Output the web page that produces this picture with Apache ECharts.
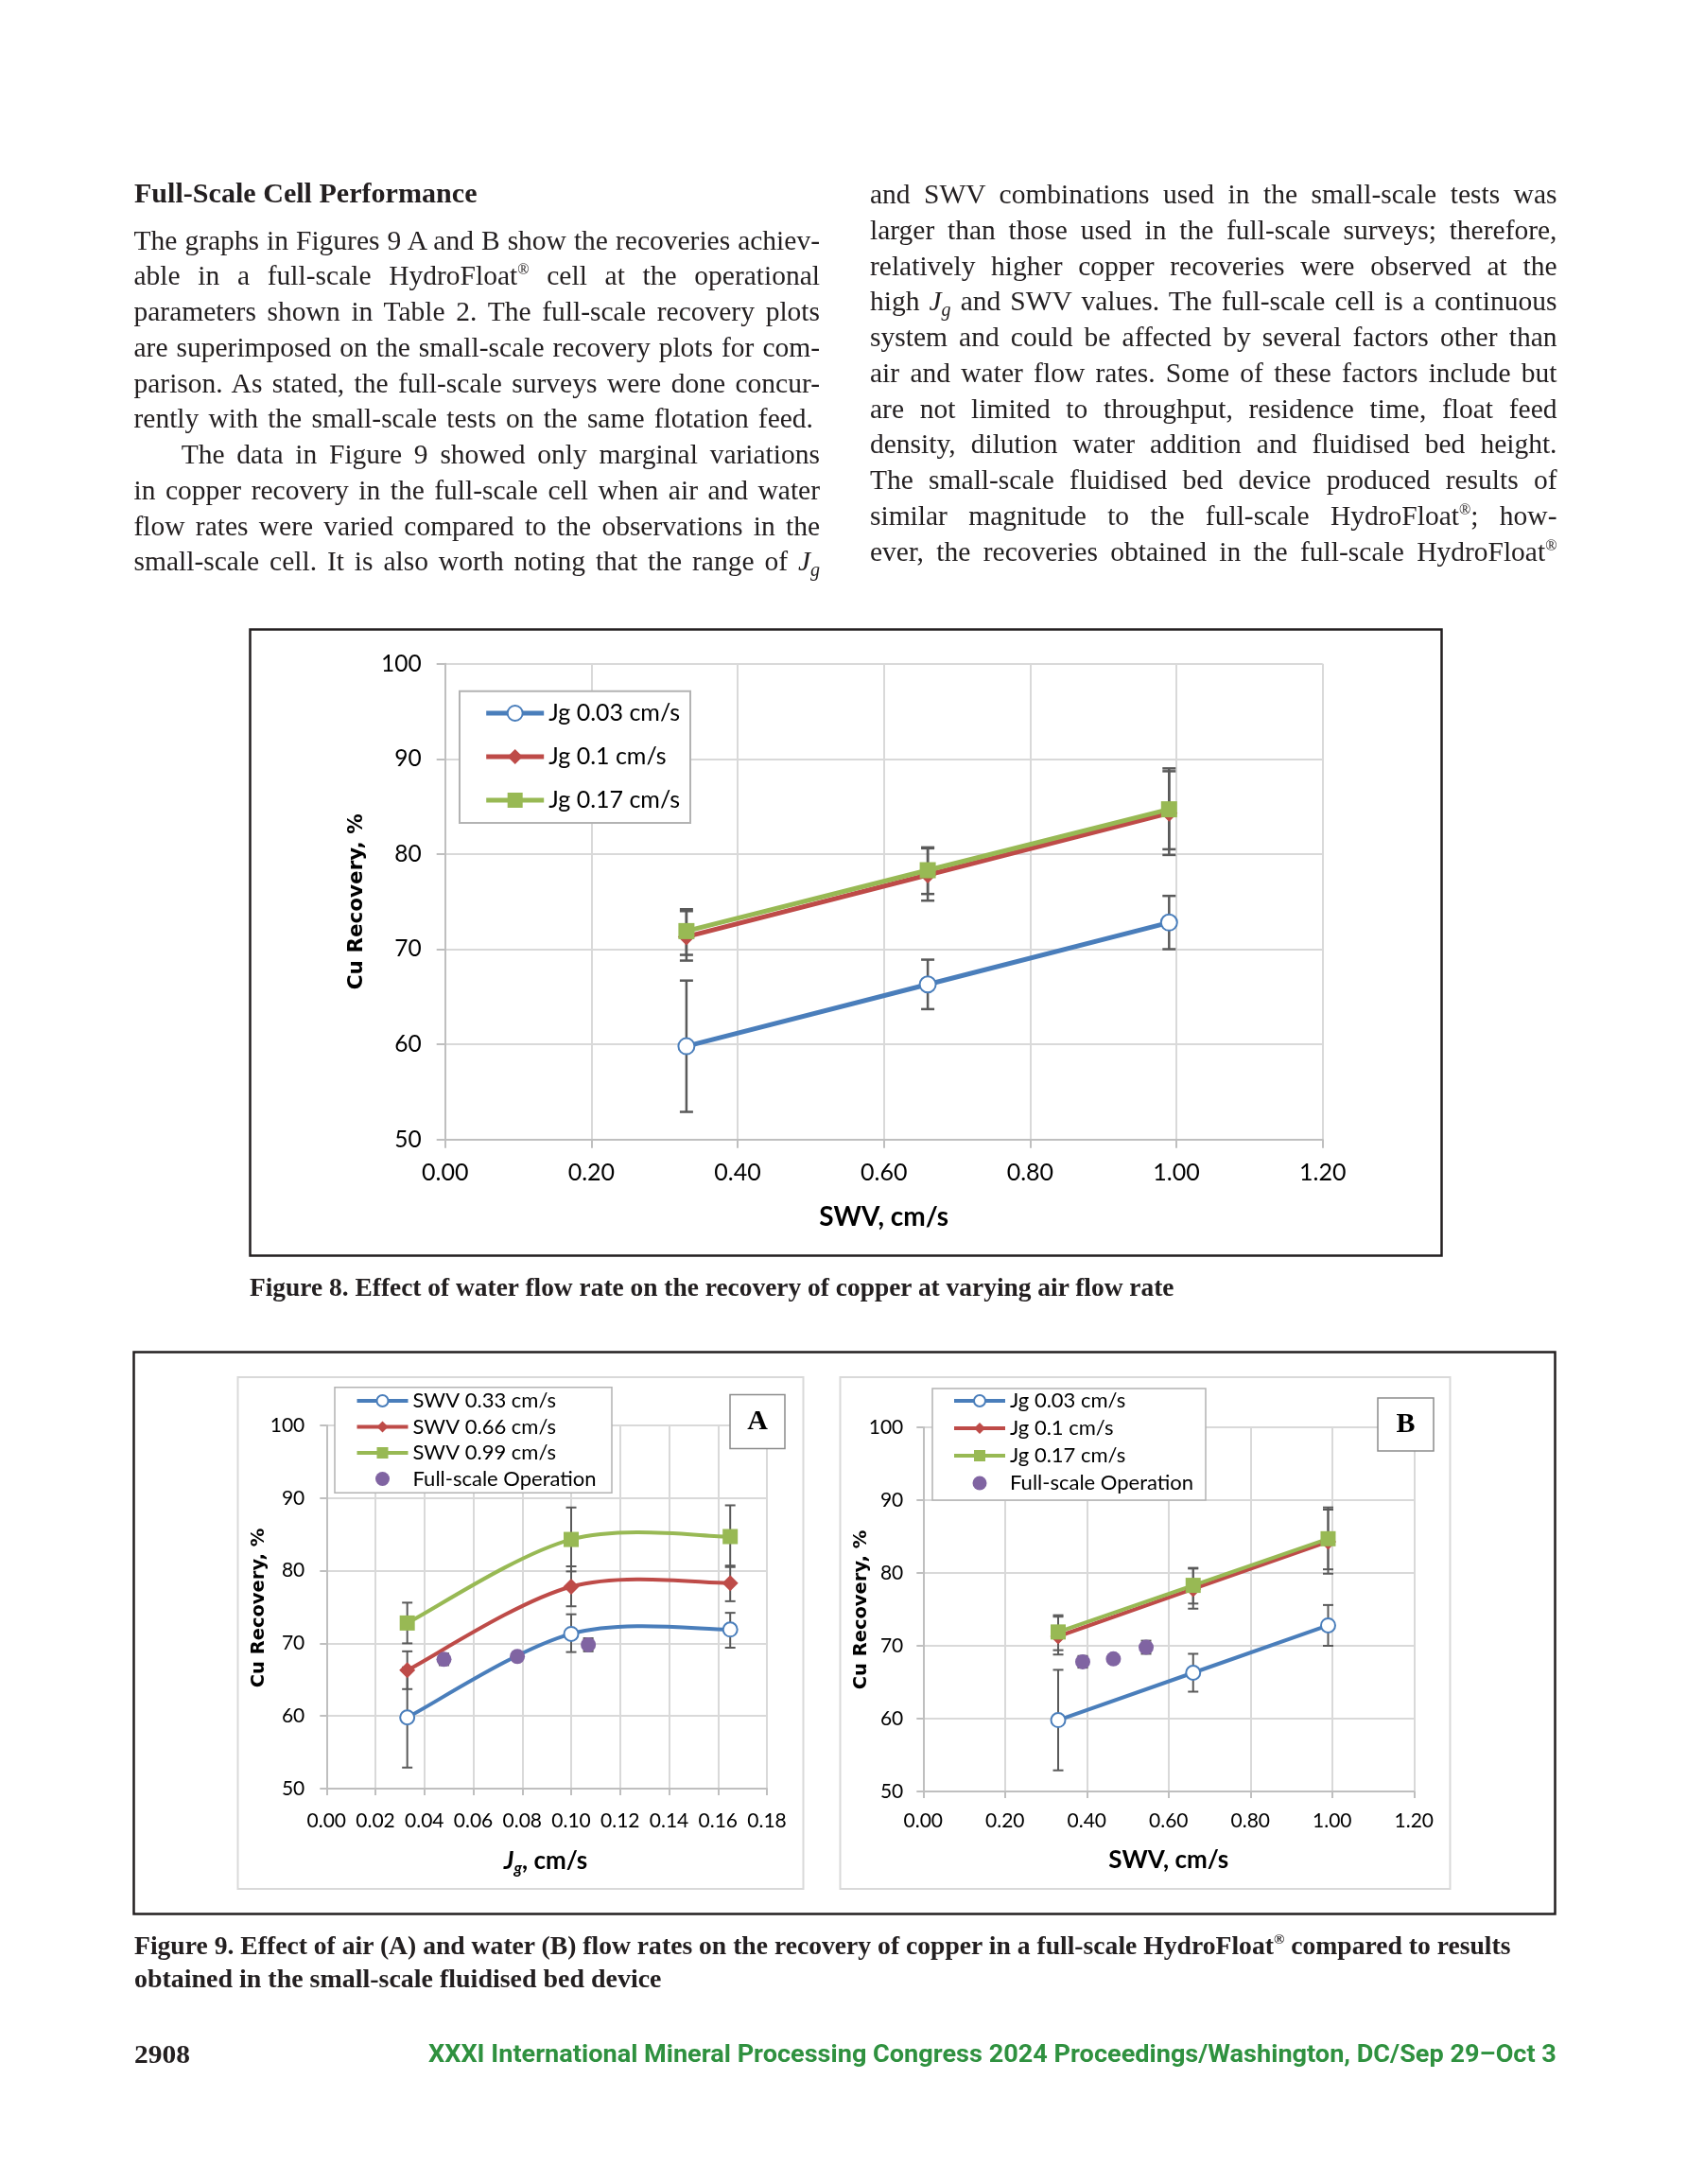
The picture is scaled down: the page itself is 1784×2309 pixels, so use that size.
<!DOCTYPE html>
<html><head><meta charset="utf-8">
<script src="https://cdn.jsdelivr.net/npm/echarts@6.0.0/dist/echarts.min.js"></script>
<style>
html,body{margin:0;padding:0;background:#fff;}
#page{position:relative;width:1784px;height:2309px;overflow:hidden;background:#fff;}
#chart{position:absolute;left:0;top:0;width:1784px;height:2309px;}
#txt{position:absolute;left:0;top:0;width:1784px;height:2309px;pointer-events:none;}
.ln{position:absolute;white-space:nowrap;font-family:"Liberation Serif",serif;font-size:29.5px;line-height:38px;color:#231f20;transform-origin:0 50%;}
.ln sub{font-size:0.68em;line-height:0;vertical-align:-0.28em;}
.ln sup{font-size:0.55em;line-height:0;vertical-align:0.7em;}
</style></head>
<body><div id="page"><div id="chart"></div><div id="txt"></div></div>
<script>
// ---------------- data ----------------
const SWV_VALUES = [0.33, 0.66, 0.99];
const JG_VALUES = [0.033, 0.10, 0.165];
const REC_JG003 = [59.8, 66.3, 72.8];
const REC_JG010 = [71.3, 77.8, 84.3];
const REC_JG017 = [71.9, 78.3, 84.7];
const LOW_JG003 = [52.9, 63.7, 70.0];
const HIGH_JG003 = [66.7, 68.9, 75.6];
const LOW_JG010 = [68.8, 75.1, 79.9];
const HIGH_JG010 = [74.0, 80.6, 88.7];
const LOW_JG017 = [69.4, 75.8, 80.5];
const HIGH_JG017 = [74.2, 80.7, 89.0];
const FULL_JG = [0.048, 0.078, 0.107];
const FULL_SWV = [0.39, 0.465, 0.545];
const FULL_REC = [67.8, 68.2, 69.8];
const FULL_ERR = [0.8, 0.4, 0.9];
const NAMES_JG = ['Jg 0.03 cm/s', 'Jg 0.1 cm/s', 'Jg 0.17 cm/s'];
const NAMES_SWV = ['SWV 0.33 cm/s', 'SWV 0.66 cm/s', 'SWV 0.99 cm/s'];
const FULL_NAME = 'Full-scale Operation';
const Y_RANGE = [50, 100, 10];
const SWV_AXIS = [0, 1.2, 0.2];
const JG_AXIS = [0, 0.18, 0.02];

// ---------------- page text ----------------
const txt = document.getElementById('txt');
function addLine(html, left, right, cy, mode, extraCss) {
  const d = document.createElement('div');
  d.className = 'ln';
  if (extraCss) d.style.cssText += extraCss;
  d.innerHTML = html;
  d.style.left = left + 'px';
  d.style.top = (cy - 19) + 'px';
  txt.appendChild(d);
  const w = d.getBoundingClientRect().width;
  const target = right - left;
  if (mode === 'j') {
    const n = (d.textContent.match(/ /g) || []).length;
    if (n) d.style.wordSpacing = ((target - w) / n) + 'px';
  } else if (mode === 'f') {
    d.style.transform = 'scaleX(' + (target / w) + ')';
  }
}
const JG_I = '<i>J</i><sub><i>g</i></sub>';
const REG = '<sup>®</sup>';
const LEFT_LINES = [
  'The graphs in Figures 9 A and B show the recoveries achiev-',
  'able in a full-scale HydroFloat' + REG + ' cell at the operational',
  'parameters shown in Table 2. The full-scale recovery plots',
  'are superimposed on the small-scale recovery plots for com-',
  'parison. As stated, the full-scale surveys were done concur-',
  'rently with the small-scale tests on the same flotation feed.',
  'The data in Figure 9 showed only marginal variations',
  'in copper recovery in the full-scale cell when air and water',
  'flow rates were varied compared to the observations in the',
  'small-scale cell. It is also worth noting that the range of ' + JG_I
];
const RIGHT_LINES = [
  'and SWV combinations used in the small-scale tests was',
  'larger than those used in the full-scale surveys; therefore,',
  'relatively higher copper recoveries were observed at the',
  'high ' + JG_I + ' and SWV values. The full-scale cell is a continuous',
  'system and could be affected by several factors other than',
  'air and water flow rates. Some of these factors include but',
  'are not limited to throughput, residence time, float feed',
  'density, dilution water addition and fluidised bed height.',
  'The small-scale fluidised bed device produced results of',
  'similar magnitude to the full-scale HydroFloat' + REG + '; how-',
  'ever, the recoveries obtained in the full-scale HydroFloat' + REG
];
addLine('Full-Scale Cell Performance', 141.5, 504, 203.5, 'f', 'font-weight:bold;font-size:29.5px;');
LEFT_LINES.forEach((s, i) => {
  const cy = 253.5 + i * 37.75;
  if (i === 5) addLine(s, 141.5, 860, cy, 'j');
  else if (i === 6) addLine(s, 191.7, 867, cy, 'j');
  else addLine(s, 141.5, 867, cy, 'j');
});
RIGHT_LINES.forEach((s, i) => addLine(s, 920, 1646.5, 205 + i * 37.75, 'j'));
addLine('Figure 8. Effect of water flow rate on the recovery of copper at varying air flow rate', 264, 1241.5, 1361, 'f', 'font-weight:bold;font-size:27.5px;');
addLine('Figure 9. Effect of air (A) and water (B) flow rates on the recovery of copper in a full-scale HydroFloat' + REG + ' compared to results', 141.5, 1597, 2057, 'f', 'font-weight:bold;font-size:27.5px;');
addLine('obtained in the small-scale fluidised bed device', 141.5, 699, 2092, 'f', 'font-weight:bold;font-size:27.5px;');
addLine('2908', 141.5, 200.5, 2172, 'f', 'font-weight:bold;font-size:28px;');
addLine('XXXI International Mineral Processing Congress 2024 Proceedings/Washington, DC/Sep 29–Oct 3', 452.6, 1645.5, 2172, 'f', 'font-family:Roboto,sans-serif;font-weight:bold;font-size:25px;color:#2f913f;');

// ---------------- chart ----------------
const C = ['#4A7EBB', '#BE4B48', '#98B954'];
const C_PURPLE = '#8064A2';
const C_ERR = '#5a5a5a';
const SYMS = ['emptyCircle', 'diamond', 'rect'];
const byJg = [REC_JG003, REC_JG010, REC_JG017];
const lowJg = [LOW_JG003, LOW_JG010, LOW_JG017];
const highJg = [HIGH_JG003, HIGH_JG010, HIGH_JG017];

function fmt2(v) { return (Math.round(v * 100) / 100).toFixed(2); }
function axisPair(gi, xr, yFont, xFont, yMargin, xMargin, tickLen) {
  const common = {
    gridIndex: gi, type: 'value',
    axisLine: { show: true, onZero: false, lineStyle: { color: '#bfbfbf', width: 2 } },
    axisTick: { show: true, length: tickLen, lineStyle: { color: '#bfbfbf', width: 2 } },
    splitLine: { show: true, lineStyle: { color: '#d9d9d9', width: 2 } }
  };
  return {
    x: Object.assign({}, common, { min: xr[0], max: xr[1], interval: xr[2],
      axisLabel: { formatter: fmt2, fontFamily: 'Lato', fontSize: xFont, color: '#000', margin: xMargin } }),
    y: Object.assign({}, common, { min: Y_RANGE[0], max: Y_RANGE[1], interval: Y_RANGE[2],
      axisLabel: { fontFamily: 'Lato', fontSize: yFont, color: '#000', margin: yMargin } })
  };
}
const ax0 = axisPair(0, SWV_AXIS, 24.5, 25, 25, 23, 9);
const ax1 = axisPair(1, JG_AXIS, 21, 21, 23, 24, 7);
const ax2 = axisPair(2, SWV_AXIS, 21, 21, 21, 21, 7);

function lineSeries(gi, name, xs, ys, k, size, lw, hideLine) {
  return {
    type: 'line', name: name, xAxisIndex: gi, yAxisIndex: gi, smooth: false,
    data: xs.map((x, i) => [x, ys[i]]),
    symbol: SYMS[k], symbolSize: size, showSymbol: true,
    itemStyle: { color: C[k], borderWidth: 2.5 },
    lineStyle: { color: C[k], width: lw, opacity: hideLine ? 0 : 1 },
    z: 3
  };
}
// Excel-style smoothed curve (Catmull-Rom Bezier) through the data points, in pixel space via the axes
function curveSeries(gi, xs, ys, k, lw) {
  const pts = xs.map((x, i) => [x, ys[i]]);
  return {
    type: 'custom', xAxisIndex: gi, yAxisIndex: gi, silent: true, z: 2,
    data: pts, encode: { x: 0, y: 1 },
    renderItem: function (params, api) {
      const i = params.dataIndex, n = pts.length;
      if (i >= n - 1) return { type: 'group', children: [] };
      const P = j => api.coord(pts[Math.max(0, Math.min(n - 1, j))]);
      const p0 = P(i - 1), p1 = P(i), p2 = P(i + 1), p3 = P(i + 2);
      return {
        type: 'bezierCurve',
        shape: {
          x1: p1[0], y1: p1[1], x2: p2[0], y2: p2[1],
          cpx1: p1[0] + (p2[0] - p0[0]) / 6, cpy1: p1[1] + (p2[1] - p0[1]) / 6,
          cpx2: p2[0] - (p3[0] - p1[0]) / 6, cpy2: p2[1] - (p3[1] - p1[1]) / 6
        },
        style: { stroke: C[k], lineWidth: lw, fill: null, lineCap: 'round' }
      };
    }
  };
}
function errSeries(gi, xs, lo, hi, capW, lw) {
  return {
    type: 'custom', xAxisIndex: gi, yAxisIndex: gi, silent: true, z: 2,
    data: xs.map((x, i) => [x, lo[i], hi[i]]),
    encode: { x: 0, y: [1, 2] },
    renderItem: function (params, api) {
      const x = api.value(0);
      const a = api.coord([x, api.value(1)]);
      const b = api.coord([x, api.value(2)]);
      const st = { stroke: C_ERR, lineWidth: lw };
      return { type: 'group', children: [
        { type: 'line', shape: { x1: a[0], y1: a[1], x2: b[0], y2: b[1] }, style: st },
        { type: 'line', shape: { x1: a[0] - capW / 2, y1: a[1], x2: a[0] + capW / 2, y2: a[1] }, style: st },
        { type: 'line', shape: { x1: b[0] - capW / 2, y1: b[1], x2: b[0] + capW / 2, y2: b[1] }, style: st }
      ] };
    }
  };
}
function fullSeries(gi, xs, size) {
  return {
    type: 'scatter', name: FULL_NAME, xAxisIndex: gi, yAxisIndex: gi,
    data: xs.map((x, i) => [x, FULL_REC[i]]), symbol: 'circle', symbolSize: size,
    itemStyle: { color: C_PURPLE, opacity: 1 }, z: 3
  };
}
const series = [];
// Figure 8 (grid 0): recovery vs SWV for each Jg
for (let k = 0; k < 3; k++) series.push(errSeries(0, SWV_VALUES, lowJg[k], highJg[k], 14, 2.5));
for (let k = 0; k < 3; k++) series.push(lineSeries(0, NAMES_JG[k], SWV_VALUES, byJg[k], k, [17, 18, 17][k], 5, false));
// Figure 9A (grid 1): recovery vs Jg for each SWV
for (let s = 0; s < 3; s++) series.push(errSeries(1, JG_VALUES, lowJg.map(r => r[s]), highJg.map(r => r[s]), 11, 2));
series.push(errSeries(1, FULL_JG, FULL_REC.map((v, i) => v - FULL_ERR[i]), FULL_REC.map((v, i) => v + FULL_ERR[i]), 11, 2));
for (let s = 0; s < 3; s++) series.push(curveSeries(1, JG_VALUES, byJg.map(r => r[s]), s, 4));
for (let s = 0; s < 3; s++) series.push(lineSeries(1, NAMES_SWV[s], JG_VALUES, byJg.map(r => r[s]), s, [15, 17, 16][s], 4, true));
series.push(fullSeries(1, FULL_JG, 16));
// Figure 9B (grid 2)
for (let k = 0; k < 3; k++) series.push(errSeries(2, SWV_VALUES, lowJg[k], highJg[k], 11, 2));
series.push(errSeries(2, FULL_SWV, FULL_REC.map((v, i) => v - FULL_ERR[i]), FULL_REC.map((v, i) => v + FULL_ERR[i]), 11, 2));
for (let k = 0; k < 3; k++) series.push(lineSeries(2, NAMES_JG[k], SWV_VALUES, byJg[k], k, [15, 17, 16][k], 4, false));
series.push(fullSeries(2, FULL_SWV, 16));

function legend(left, top, names, iw, ih, fs, gap, lw) {
  return {
    left: left, top: top, orient: 'vertical', padding: 0, itemWidth: iw, itemHeight: ih, itemGap: gap,
    selectedMode: false, z: 6,
    data: names.map((n, i) => i < 3 ? { name: n, lineStyle: { color: C[i], width: lw, opacity: 1 } } : { name: n }),
    lineStyle: { width: lw, opacity: 1 },
    textStyle: { fontFamily: 'Lato', fontSize: fs, color: '#000' }
  };
}
const T = (x, y, text, font, rot, z) => ({ type: 'text', x: x, y: y, rotation: rot || 0, z: z || 5,
  style: { text: text, font: font, fill: '#000', align: 'center', verticalAlign: 'middle' } });
const R = (x, y, w, h, stroke, lw, fill, z) => ({ type: 'rect', z: z || 1,
  shape: { x: x, y: y, width: w, height: h }, style: { fill: fill || 'none', stroke: stroke, lineWidth: lw } });

const option = {
  animation: false,
  backgroundColor: 'transparent',
  grid: [
    { left: 470.7, top: 701.7, width: 928, height: 503, outerBoundsMode: 'none', containLabel: false },
    { left: 345.3, top: 1507, width: 465.7, height: 384, outerBoundsMode: 'none', containLabel: false },
    { left: 976.3, top: 1509, width: 519, height: 385, outerBoundsMode: 'none', containLabel: false }
  ],
  xAxis: [ax0.x, ax1.x, ax2.x],
  yAxis: [ax0.y, ax1.y, ax2.y],
  legend: [
    legend(511.7, 741.5, NAMES_JG, 61, 20, 25, 21, 5),
    legend(375.5, 1470, NAMES_SWV.concat([FULL_NAME]), 54, 15, 22, 5.5, 4),
    legend(1007, 1470, NAMES_JG.concat([FULL_NAME]), 54, 15, 22, 7, 4)
  ],
  graphic: { elements: [
    R(264.5, 665.5, 1260, 662, '#231f20', 2.5),
    R(141.5, 1429.5, 1503, 594, '#231f20', 2.5),
    R(251.5, 1456, 598, 541, '#d9d9d9', 2),
    R(888.5, 1456, 645, 541, '#d9d9d9', 2),
    R(486, 730.7, 244, 139.3, '#b3b3b3', 2, '#fff', 4),
    R(354, 1466.7, 293, 111.6, '#b3b3b3', 1.5, '#fff', 4),
    R(986, 1468, 289, 118, '#b3b3b3', 1.5, '#fff', 4),
    R(772, 1474.5, 58, 57, '#8c8c8c', 1.5, '#fff', 4),
    R(1457, 1478, 59, 56, '#8c8c8c', 1.5, '#fff', 4),
    T(801, 1503, 'A', 'bold 30px "Liberation Serif"', 0, 5),
    T(1486.5, 1506, 'B', 'bold 30px "Liberation Serif"', 0, 5),
    T(377.5, 953.2, 'Cu Recovery, %', 'bold 21.5px "DejaVu Sans"', Math.PI / 2),
    T(934.7, 1287, 'SWV, cm/s', 'bold 28px Lato'),
    T(273.8, 1700, 'Cu Recovery, %', 'bold 19.5px "DejaVu Sans"', Math.PI / 2),
    T(910.7, 1702, 'Cu Recovery, %', 'bold 19.5px "DejaVu Sans"', Math.PI / 2),
    T(1235.8, 1966.5, 'SWV, cm/s', 'bold 26px Lato'),
    { type: 'text', x: 577, y: 1968, z: 5, style: {
      text: '{j|J}{g|g}{t|, cm/s}', align: 'center', verticalAlign: 'middle', fill: '#000',
      rich: {
        j: { fontFamily: 'Lato', fontWeight: 'bold', fontStyle: 'italic', fontSize: 26, lineHeight: 32, verticalAlign: 'middle' },
        g: { fontFamily: 'Lato', fontWeight: 'bold', fontStyle: 'italic', fontSize: 17, lineHeight: 17, verticalAlign: 'bottom' },
        t: { fontFamily: 'Lato', fontWeight: 'bold', fontSize: 26, lineHeight: 32, verticalAlign: 'middle' }
      } } }
  ] },
  series: series
};
const chart = echarts.init(document.getElementById('chart'), null, { renderer: 'canvas' });
chart.setOption(option);
</script></body></html>
